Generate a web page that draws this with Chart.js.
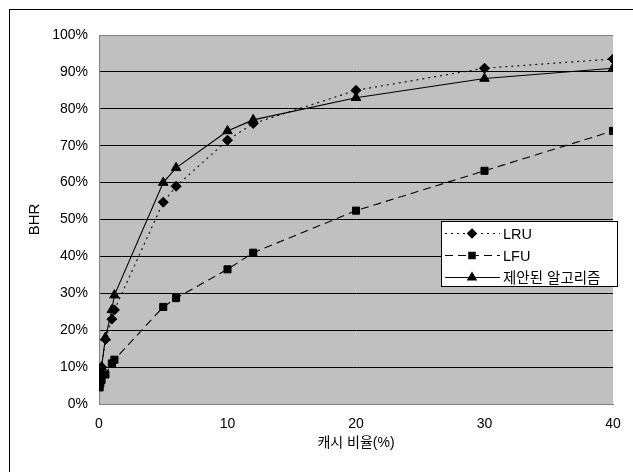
<!DOCTYPE html>
<html>
<head>
<meta charset="utf-8">
<script src="https://cdn.jsdelivr.net/npm/chart.js@4/dist/chart.umd.min.js"></script>
<style>
  html, body { margin: 0; padding: 0; background: #fff; }
  #wrap { width: 633px; height: 472px; }
</style>
</head>
<body>
<div id="wrap"><canvas id="chart" width="633" height="472"></canvas></div>
<script>
// 캐시 비율(%) 값과 각 알고리즘의 BHR(%)
const lruX = [0.1, 0.2, 0.5, 1, 1.2, 5, 6, 10, 12, 20, 30, 40];
const lruY = [8, 10, 17.5, 23, 25.5, 54.7, 59, 71.5, 76, 85, 91, 93.5];

const lfuX = [0.05, 0.1, 0.2, 0.5, 1, 1.2, 5, 6, 10, 12, 20, 30, 40];
const lfuY = [4.5, 5.5, 6.5, 8, 11, 12, 26.3, 28.7, 36.5, 41, 52.4, 63.2, 74];

const propX = [0.1, 0.2, 0.5, 1, 1.2, 5, 6, 10, 12, 20, 30, 40];
const propY = [9, 10, 18, 25.5, 29.5, 60, 64, 74, 77, 83, 88.2, 91];

const seriesNames = ['LRU', 'LFU', '제안된 알고리즘'];
const xTicks = [0, 10, 20, 30, 40];

const FONT = '"Liberation Sans", Arial, "Noto Sans CJK KR", sans-serif';

function toPoints(xs, ys) {
    return xs.map((x, i) => ({ x: x, y: ys[i] }));
}

// 회색 플롯 배경과 바깥 테두리
const backgroundPlugin = {
    id: 'plotBackground',
    beforeDraw(chart) {
        const { ctx, chartArea } = chart;
        ctx.save();
        ctx.fillStyle = '#fff';
        ctx.fillRect(0, 0, chart.width, chart.height);
        ctx.strokeStyle = '#000';
        ctx.lineWidth = 1;
        ctx.strokeRect(9.5, 9.5, 700, 700);
        ctx.fillStyle = '#c0c0c0';
        ctx.fillRect(chartArea.left, chartArea.top,
            chartArea.right - chartArea.left, chartArea.bottom - chartArea.top);
        ctx.restore();
    }
};

// 플롯 안쪽 오른편의 범례
const legendBoxPlugin = {
    id: 'legendBox',
    afterDraw(chart) {
        const { ctx } = chart;
        const box = { x: 441, y: 221, w: 176, h: 65 };
        ctx.save();
        ctx.fillStyle = '#fff';
        ctx.fillRect(box.x, box.y, box.w, box.h);
        ctx.strokeStyle = '#000';
        ctx.lineWidth = 1;
        ctx.strokeRect(box.x + 0.5, box.y + 0.5, box.w, box.h);

        const rows = [233, 255, 277];
        chart.data.datasets.forEach((ds, i) => {
            const y = rows[i] + 0.5;
            ctx.strokeStyle = '#000';
            ctx.lineWidth = 1.1;
            ctx.setLineDash(ds.borderDash || []);
            ctx.beginPath();
            ctx.moveTo(445, y);
            ctx.lineTo(500, y);
            ctx.stroke();
            ctx.setLineDash([]);
            ctx.fillStyle = '#000';
            Chart.helpers.drawPoint(ctx, {
                pointStyle: ds.pointStyle,
                radius: ds.pointRadius - 0.5,
                rotation: 0,
                borderWidth: 1
            }, 472, y);
            ctx.fillStyle = '#000';
            ctx.font = '14.5px ' + FONT;
            ctx.textBaseline = 'middle';
            ctx.textAlign = 'left';
            ctx.fillText(ds.label, 503, y + 1);
        });
        ctx.restore();
    }
};

const ctx = document.getElementById('chart').getContext('2d');

const common = {
    borderColor: '#000',
    backgroundColor: '#000',
    pointBackgroundColor: '#000',
    pointBorderColor: '#000',
    borderWidth: 1.1,
    pointBorderWidth: 1,
    fill: false,
    tension: 0
};

new Chart(ctx, {
    type: 'line',
    data: {
        datasets: [
            { ...common, label: seriesNames[0], data: toPoints(lruX, lruY),
              borderDash: [2, 4], pointStyle: 'rectRot', pointRadius: 5 },
            { ...common, label: seriesNames[1], data: toPoints(lfuX, lfuY),
              borderDash: [8, 5], pointStyle: 'rect', pointRadius: 5 },
            { ...common, label: seriesNames[2], data: toPoints(propX, propY),
              pointStyle: 'triangle', pointRadius: 5.5 }
        ]
    },
    options: {
        responsive: false,
        animation: false,
        layout: { padding: { top: 35, right: 20, left: 0, bottom: 0 } },
        plugins: {
            legend: { display: false },
            tooltip: { enabled: false }
        },
        scales: {
            x: {
                type: 'linear',
                min: 0,
                max: 40,
                afterBuildTicks(scale) {
                    scale.ticks = xTicks.map(v => ({ value: v }));
                },
                afterFit(scale) { scale.height = 68; },
                grid: { display: false, drawTicks: false },
                border: { display: true, color: '#808080', width: 1 },
                ticks: {
                    padding: 12,
                    color: '#000',
                    font: { family: FONT, size: 14 },
                    maxRotation: 0
                },
                title: {
                    display: true,
                    text: '캐시 비율(%)',
                    color: '#000',
                    font: { family: FONT, size: 14 },
                    padding: { top: 4, bottom: 20 }
                }
            },
            y: {
                min: 0,
                max: 100,
                afterFit(scale) { scale.width = 99; },
                grid: {
                    color: ctx => (ctx.tick && (ctx.tick.value === 100 || ctx.tick.value === 0)) ? '#808080' : '#000',
                    lineWidth: 1,
                    drawTicks: false
                },
                border: { display: true, color: '#808080', width: 1 },
                ticks: {
                    stepSize: 10,
                    padding: 11,
                    color: '#000',
                    font: { family: FONT, size: 14 },
                    callback: v => v + '%'
                },
                title: {
                    display: true,
                    text: 'BHR',
                    color: '#000',
                    font: { family: FONT, size: 15 },
                    padding: { top: 26, bottom: 0 }
                }
            }
        }
    },
    plugins: [backgroundPlugin, legendBoxPlugin]
});
</script>
</body>
</html>
